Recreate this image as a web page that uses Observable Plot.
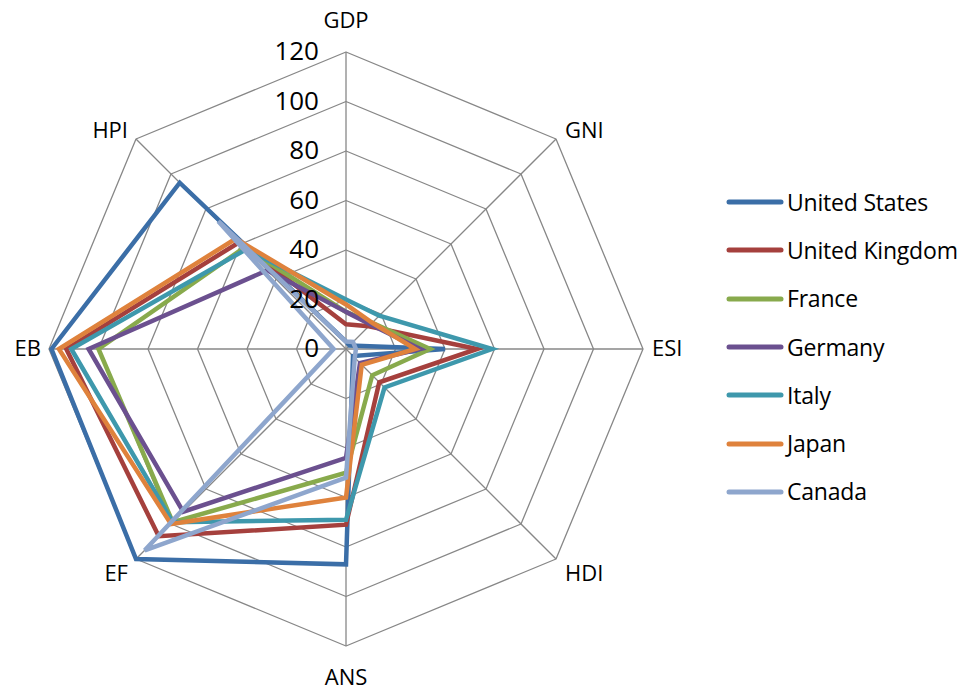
<!DOCTYPE html>
<html>
<head>
<meta charset="utf-8">
<script src="https://cdn.jsdelivr.net/npm/d3@7"></script>
<script src="https://cdn.jsdelivr.net/npm/@observablehq/plot@0.6"></script>
<style>
  body { margin: 0; background: #fff; font-family: "Open Sans", sans-serif; }
  #chart { position: relative; width: 967px; height: 693px; }
  #legend { position: absolute; left: 726px; top: 178px; }
  .row { display: flex; align-items: center; height: 48.3px; }
  .row svg { flex: none; margin-right: 3px; }
  .row span { font-size: 23px; color: #000; line-height: 1; letter-spacing: -0.2px; }
</style>
</head>
<body>
<div id="chart"></div>
<script>
// Indicator axes, clockwise from the top
const axes = ["GDP", "GNI", "ESI", "HDI", "ANS", "EF", "EB", "HPI"];
const ticks = [0, 20, 40, 60, 80, 100, 120];

const countries = ["United States", "United Kingdom", "France", "Germany", "Italy", "Japan", "Canada"];
const colors = ["#3b6ea7", "#a5403d", "#88aa4c", "#6b508f", "#3e98ac", "#df823c", "#8ea6cd"];

// Scores per indicator, same order as axes
const unitedStates   = [3, 2, 40, 4, 87, 120, 119, 95];
const unitedKingdom  = [10, 13, 53, 19, 71, 107, 113, 61];
const france         = [15, 15, 34, 15, 50, 99, 100, 58];
const germany        = [15, 14, 30, 8, 44, 93, 104, 45];
const italy          = [20, 19, 59, 22, 69, 99, 111, 57];
const japan          = [18, 15, 28, 9, 60, 100, 116, 63];
const canada         = [3, 4, 4, 5, 52, 115, 5, 73];

const seriesValues = [unitedStates, unitedKingdom, france, germany, italy, japan, canada];

// Geometry of the radar frame
const W = 967, H = 693;
const cx = 345.5, cy = 348.5, k = 2.475; // centre and pixels per unit
const maxR = d3.max(ticks);
const ang = i => Math.PI / 2 - i * 2 * Math.PI / axes.length;
const polar = (r, i) => ({x: r * Math.cos(ang(i)), y: r * Math.sin(ang(i))});

const lines = countries.flatMap((c, j) =>
  seriesValues[j].map((v, i) => ({country: c, axis: axes[i], ...polar(v, i)})));

const rings = ticks.filter(t => t > 0).flatMap(t =>
  axes.map((a, i) => ({ring: t, ...polar(t, i)})));

const spokes = axes.map((a, i) => {
  const p = polar(maxR, i);
  return {axis: a, x1: 0, y1: 0, x2: p.x, y2: p.y};
});

// One text mark per axis name, anchored just outside the outer ring
const axisLabelMarks = axes.map((a, i) => {
  const p = polar(maxR, i);
  const c = Math.cos(ang(i)), s = Math.sin(ang(i));
  return Plot.text([{label: a, ...p}], {
    x: "x", y: "y", text: "label",
    textAnchor: c > 0.1 ? "start" : c < -0.1 ? "end" : "middle",
    dx: c > 0.1 ? 9 : c < -0.1 ? -8 : 0,
    dy: s > 0.9 ? -31 : s < -0.9 ? 32 : s > 0.1 ? -8 : s < -0.1 ? 15 : 0,
    fontSize: 22, fill: "#000"
  });
});

const gridColor = "#878787";

const plot = Plot.plot({
  width: W,
  height: H,
  margin: 0,
  style: {fontFamily: "Open Sans, sans-serif", background: "#fff"},
  x: {axis: null, domain: [-cx / k, (W - cx) / k], range: [0, W]},
  y: {axis: null, domain: [-(H - cy) / k, cy / k], range: [H, 0]},
  color: {domain: countries, range: colors},
  marks: [
    Plot.line(rings, {x: "x", y: "y", z: "ring", curve: "linear-closed", stroke: gridColor, strokeWidth: 1.3}),
    Plot.link(spokes, {x1: "x1", y1: "y1", x2: "x2", y2: "y2", stroke: gridColor, strokeWidth: 1.3}),
    Plot.line(lines, {x: "x", y: "y", z: "country", stroke: "country", curve: "linear-closed",
      strokeWidth: 4.5, strokeLinejoin: "miter", strokeMiterlimit: 4}),
    Plot.text(ticks, {x: () => 0, y: d => d, text: d => String(d), textAnchor: "end",
      dx: -27, fontSize: 26, fill: "#000"}),
    ...axisLabelMarks
  ]
});

const chart = document.getElementById("chart");
chart.appendChild(plot);

// Legend with line swatches
const legend = d3.select(chart).append("div").attr("id", "legend");
countries.forEach((c, j) => {
  const row = legend.append("div").attr("class", "row");
  const sw = row.append("svg").attr("width", 58).attr("height", 10);
  sw.append("line").attr("x1", 3).attr("x2", 55).attr("y1", 5).attr("y2", 5)
    .attr("stroke", colors[j]).attr("stroke-width", 5).attr("stroke-linecap", "round");
  row.append("span").text(c);
});
</script>
</body>
</html>
